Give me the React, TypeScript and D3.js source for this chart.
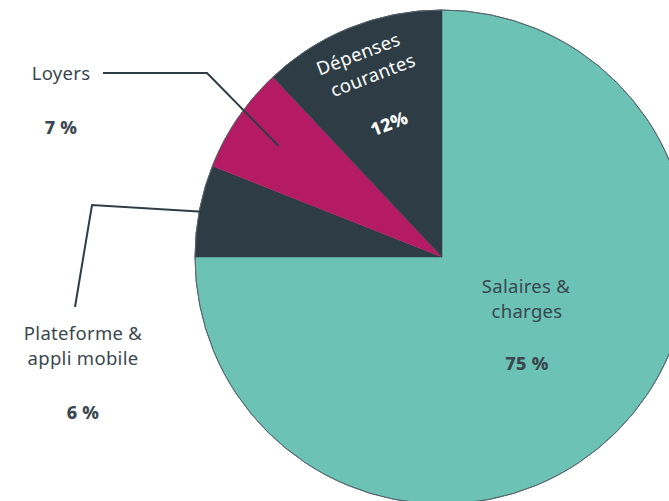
import { useMemo } from 'react';
import * as d3 from 'd3';

// Répartition du budget (en %)
const categories = ['Salaires & charges', 'Plateforme & appli mobile', 'Loyers', 'Dépenses courantes'];
const values = [75, 6, 7, 12];
const percentLabels = ['75 %', '6 %', '7 %', '12%'];
const colors = ['#6bc2b5', '#2e3d45', '#b51b64', '#2e3d45'];

const W = 669;
const H = 501;
const textColor = '#3a4750';
const font = '"Noto Sans", "Open Sans", sans-serif';

export default function App() {
  const cx = 442;
  const cy = 257;
  const r = 247;

  const arcs = useMemo(() => d3.pie<number>().sort(null).value(d => d)(values), []);

  const arc = d3.arc<d3.PieArcDatum<number>>().innerRadius(0).outerRadius(r);

  // point on the circle at a given angle (0 = top, clockwise), at radius k*r
  const pt = (a: number, k: number) => [Math.sin(a) * r * k, -Math.cos(a) * r * k];
  const mid = (i: number) => (arcs[i].startAngle + arcs[i].endAngle) / 2;

  const loy = pt(mid(2), 0.8);
  const pla = pt(mid(1), 0.97);

  return (
    <svg width={W} height={H} style={{ position: 'absolute', left: 0, top: 0, background: '#fff' }}>
      <g transform={`translate(${cx},${cy})`}>
        {arcs.map((a, i) => (
          <path key={categories[i]} d={arc(a) || ''} fill={colors[i]} stroke={colors[i]} strokeWidth={0.5} />
        ))}
        <path d={d3.arc()({ innerRadius: r, outerRadius: r, startAngle: 0, endAngle: Math.PI * 2 }) || ''}
          fill="none" stroke="#55606a" strokeWidth={0.8} />
      </g>

      {/* lignes de rappel */}
      <polyline points={`103,73 207,73 ${cx + loy[0]},${cy + loy[1]}`} fill="none" stroke="#2e3d45" strokeWidth={2} />
      <polyline points={`${cx + pla[0]},${cy + pla[1]} 92,205 75,307`} fill="none" stroke="#2e3d45" strokeWidth={2} />

      <g fontFamily={font} fill={textColor} fontSize={18.5} letterSpacing={0.3} textAnchor="middle">
        <text x={61} y={80}>Loyers</text>
        <text x={61} y={134} fontWeight={800} fontSize={18}>{percentLabels[2]}</text>

        <text x={83} y={340}>Plateforme &amp;</text>
        <text x={83} y={365}>appli mobile</text>
        <text x={83} y={419} fontWeight={800} fontSize={18}>{percentLabels[1]}</text>

        <text x={526} y={293}>Salaires &amp;</text>
        <text x={527} y={318}>charges</text>
        <text x={527} y={370} fontWeight={800} fontSize={18}>{percentLabels[0]}</text>

        <g transform="translate(372,90) rotate(-21)" fill="#ffffff">
          <text x={0} y={-32}>Dépenses</text>
          <text x={6} y={-7}>courantes</text>
          <text x={4} y={44} fontWeight={800} fontSize={18}>{percentLabels[3]}</text>
        </g>
      </g>
    </svg>
  );
}
